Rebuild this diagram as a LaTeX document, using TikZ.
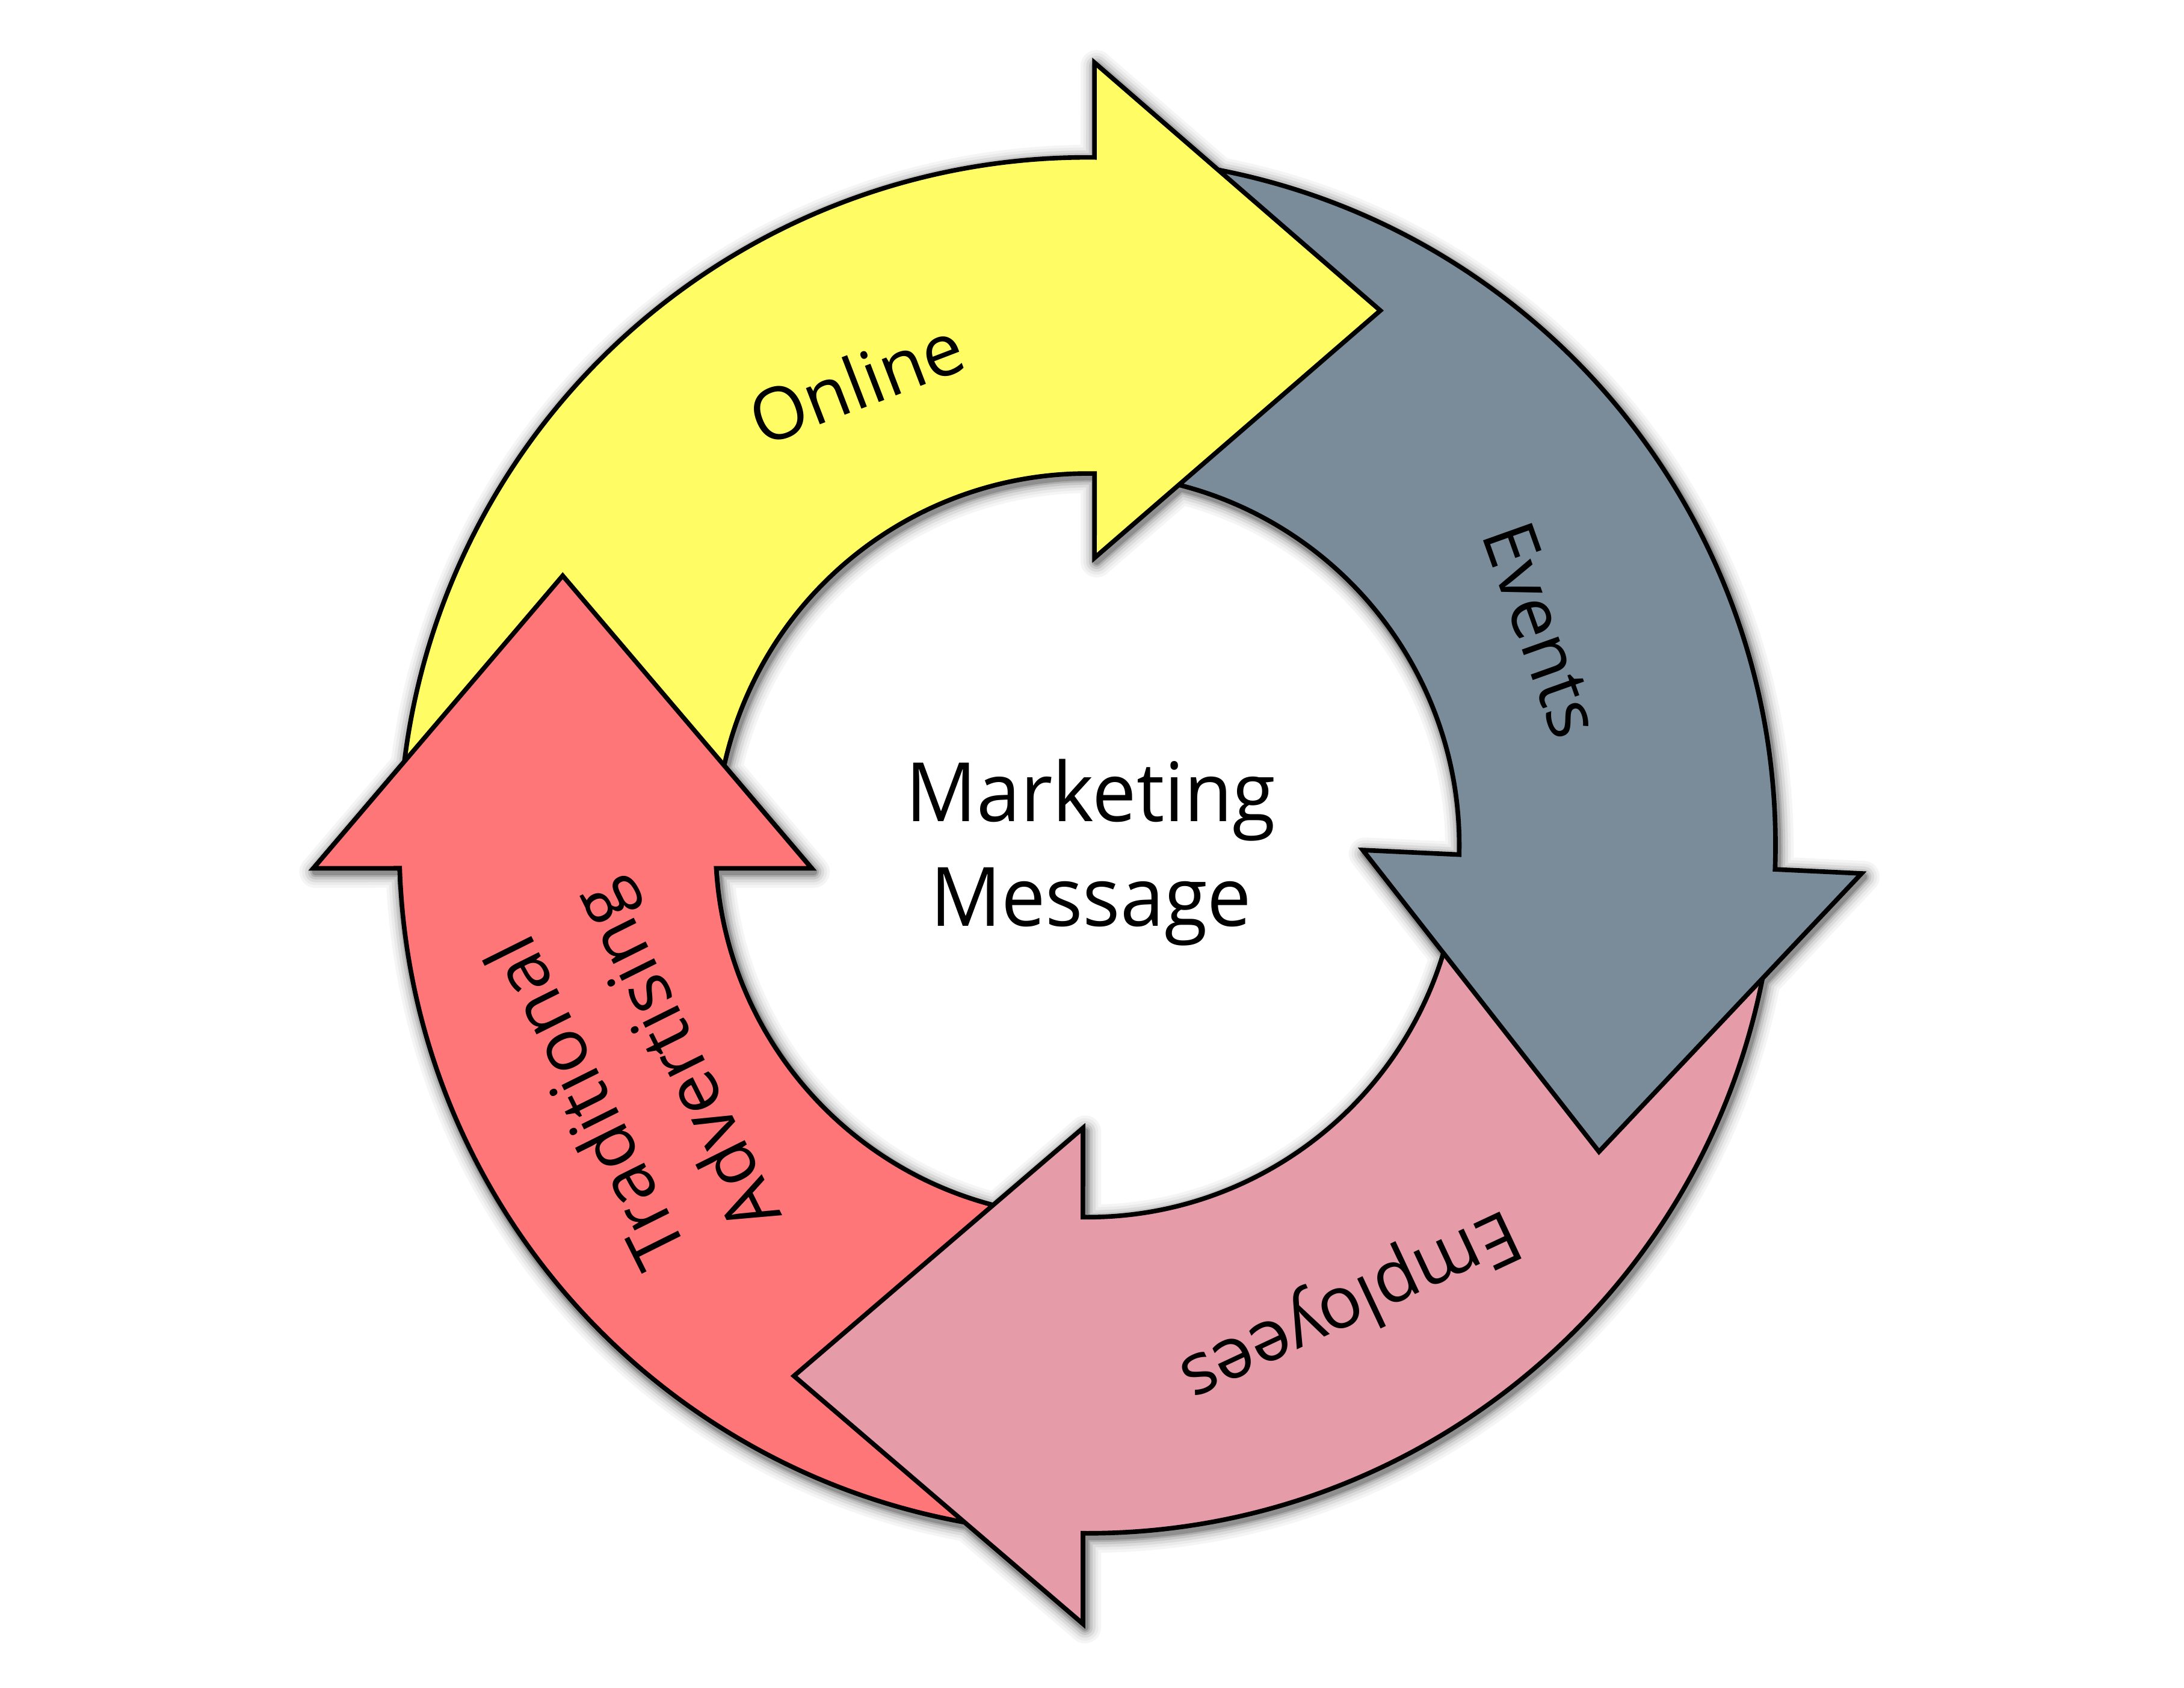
\documentclass[tikz,border=0pt]{standalone}
\usepackage{fontspec}
\setmainfont{Open Sans}
\newfontfamily\ctrfont[FakeStretch=0.96]{Open Sans}
\definecolor{cyellow}{HTML}{FFFD63}
\definecolor{cslate}{HTML}{7A8C9A}
\definecolor{cpink}{HTML}{E59BA8}
\definecolor{cred}{HTML}{FF7678}
\begin{document}
\begin{tikzpicture}[x=0.02cm,y=0.02cm,
  arrowshape/.style={draw=black, line width=0.066cm, line join=miter},
  lbl/.style={font=\fontsize{29.6}{41}\selectfont, text=black, inner sep=0pt, align=center},
  ctr/.style={font=\ctrfont\fontsize{33.5}{45}\selectfont, text=black, inner sep=0pt}]
\def\yellowpath{(180:494) arc[start angle=180, end angle=89.41, radius=494] -- (5.1,562) -- (210.3,384) -- (5.1,206.4) -- (88.9:267) arc[start angle=88.9, end angle=180, radius=267] -- cycle}
\def\graypath{(82:494) arc[start angle=82, end angle=-2.0, radius=494] -- (555.8,-20.2) -- (367.3,-220) -- (197.7,-3.4) -- (-1.43:267) arc[start angle=-1.43, end angle=82, radius=267] -- cycle}
\def\pinkpath{(-8:494) arc[start angle=-8, end angle=-90.37, radius=494] -- (-3.2,-559) -- (-210.7,-381) -- (-3.2,-203) -- (-90.69:267) arc[start angle=-90.69, end angle=-8, radius=267] -- cycle}
\def\redpath{(262:494) arc[start angle=262, end angle=181.91, radius=494] -- (-555.7,-16.5) -- (-376.7,193.6) -- (-198,-16.5) -- (183.54:267) arc[start angle=183.54, end angle=262, radius=267] -- cycle}
\fill[white] (-780.7,-605) rectangle (787.3,607);
\useasboundingbox (-780.7,-605) rectangle (787.3,607);
% soft shadow
\begin{scope}[shift={(1.5,-2.5)}]
\foreach \w/\c in {0.46cm/4, 0.38cm/8, 0.30cm/14, 0.22cm/22, 0.15cm/32, 0.10cm/44}{
  \draw[line width=\w, draw=black!\c, line join=round] \yellowpath \graypath \pinkpath \redpath;
}
\end{scope}
% arrows: each head lies over the tail of the next arrow
\filldraw[arrowshape, fill=cred] \redpath;
\filldraw[arrowshape, fill=cpink] \pinkpath;
\filldraw[arrowshape, fill=cslate] \graypath;
\filldraw[arrowshape, fill=cyellow] \yellowpath;
\begin{scope}
  \clip (-700,-30) rectangle (0,700);
  \filldraw[arrowshape, fill=cred] \redpath;
\end{scope}
% labels
\node[lbl, rotate=21] (online) at (-166.1,332.7) {Online};
\node[lbl, rotate=-70.4] (events) at (326.4,154.8) {Events};
\node[lbl, rotate=-154.9] (employees) at (187.8,-329) {Employees};
\node[lbl, rotate=116.5] (tradadv) at (-323.7,-166.5) {Traditional\\Advertising};
\node[ctr, anchor=base] (mk1) at (2.5,17) {Marketing};
\node[ctr, anchor=base] (mk2) at (2.5,-58) {Message};
\end{tikzpicture}
\end{document}
